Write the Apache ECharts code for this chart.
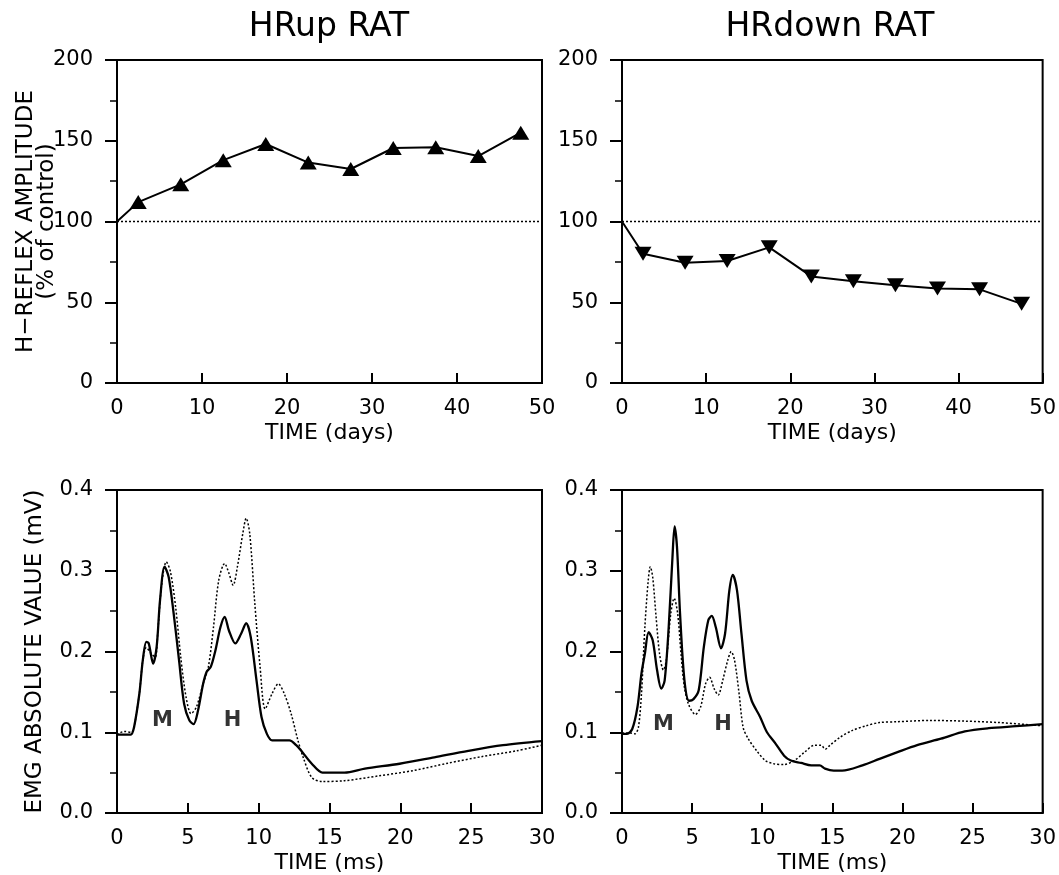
<!DOCTYPE html>
<html><head><meta charset="utf-8">
<script src="https://cdn.jsdelivr.net/npm/echarts@6/dist/echarts.min.js"></script>
<style>html,body{margin:0;padding:0;background:#fff}#c{width:1059px;height:875px}</style>
</head><body><div id="c"></div>
<script>
// ---- data ----
const dayTicks = [0, 10, 20, 30, 40, 50];
const ampTicks = [0, 50, 100, 150, 200];
const msTicks = [0, 5, 10, 15, 20, 25, 30];
const mvTicks = [0, 0.1, 0.2, 0.3, 0.4];

const upDays = [0, 2.5, 7.5, 12.5, 17.5, 22.5, 27.5, 32.5, 37.5, 42.5, 47.5];
const upAmp  = [100, 112, 123, 138, 148, 136.5, 132.5, 145.5, 146, 140.5, 155];
const downDays = [0, 2.5, 7.5, 12.5, 17.5, 22.5, 27.5, 32.5, 37.5, 42.5, 47.5];
const downAmp  = [100, 80, 74.5, 75.5, 84, 66, 63, 60.5, 58.5, 58, 49];
const controlLevel = 100;

const upSolid = [[0,0.097],[0.97,0.097],[1.2,0.106],[1.58,0.148],[1.82,0.189],[2.07,0.212],[2.24,0.21],[2.55,0.185],[2.8,0.206],[3.04,0.264],[3.36,0.305],[3.65,0.292],[4.0,0.247],[4.38,0.189],[4.74,0.135],[5.1,0.115],[5.4,0.11],[5.72,0.127],[6.08,0.16],[6.33,0.175],[6.62,0.181],[6.93,0.2],[7.3,0.23],[7.6,0.243],[7.9,0.226],[8.35,0.21],[8.76,0.222],[9.12,0.235],[9.44,0.218],[9.85,0.164],[10.2,0.119],[10.58,0.098],[10.95,0.09],[11.4,0.09],[12.17,0.09],[12.65,0.084],[13.1,0.075],[13.75,0.061],[14.5,0.05],[15.1,0.05],[16.06,0.05],[17.5,0.055],[19.95,0.061],[22.4,0.069],[24.8,0.077],[27.25,0.084],[30,0.089]];
const upDotted = [[0,0.097],[0.5,0.101],[1.0,0.1],[1.2,0.106],[1.58,0.148],[1.82,0.189],[2.07,0.205],[2.43,0.197],[2.7,0.193],[2.9,0.23],[3.16,0.284],[3.48,0.311],[3.77,0.299],[4.14,0.255],[4.5,0.193],[4.87,0.144],[5.23,0.123],[5.6,0.131],[6.08,0.16],[6.45,0.181],[6.81,0.23],[7.18,0.288],[7.6,0.309],[7.9,0.297],[8.2,0.282],[8.5,0.305],[8.88,0.346],[9.12,0.365],[9.37,0.346],[9.73,0.259],[10.1,0.181],[10.46,0.129],[10.95,0.148],[11.39,0.16],[11.8,0.148],[12.29,0.123],[12.77,0.09],[13.14,0.069],[13.75,0.044],[14.48,0.039],[16.06,0.04],[18.5,0.046],[20.9,0.0525],[23.36,0.0617],[25.8,0.07],[28.2,0.077],[30,0.084]];
const downSolid = [[0,0.098],[0.36,0.098],[0.73,0.104],[1.1,0.131],[1.39,0.173],[1.63,0.197],[1.9,0.224],[2.19,0.214],[2.5,0.177],[2.8,0.154],[3.04,0.164],[3.33,0.23],[3.6,0.317],[3.75,0.355],[3.92,0.33],[4.14,0.247],[4.45,0.165],[4.79,0.139],[5.1,0.141],[5.47,0.152],[5.84,0.206],[6.16,0.239],[6.4,0.244],[6.69,0.23],[7.06,0.204],[7.35,0.222],[7.66,0.276],[7.9,0.295],[8.2,0.276],[8.52,0.222],[8.88,0.164],[9.25,0.139],[9.85,0.119],[10.34,0.1],[10.95,0.086],[11.56,0.071],[12.04,0.065],[12.77,0.062],[13.5,0.059],[14.1,0.059],[14.48,0.055],[15.1,0.0525],[15.7,0.0525],[17.15,0.059],[18.37,0.067],[19.6,0.075],[21.05,0.084],[22.75,0.092],[24.45,0.101],[26.15,0.105],[28.1,0.1075],[30,0.11]];
const downDotted = [[0,0.099],[0.6,0.099],[0.92,0.098],[1.17,0.106],[1.39,0.148],[1.63,0.23],[1.87,0.288],[2.02,0.305],[2.19,0.292],[2.43,0.243],[2.68,0.197],[2.95,0.177],[3.16,0.189],[3.48,0.247],[3.72,0.266],[3.97,0.247],[4.21,0.197],[4.45,0.156],[4.74,0.135],[5.23,0.122],[5.6,0.131],[5.96,0.16],[6.25,0.168],[6.57,0.154],[6.86,0.146],[7.18,0.164],[7.54,0.189],[7.79,0.2],[8.03,0.189],[8.35,0.148],[8.64,0.106],[9.0,0.092],[9.61,0.077],[10.22,0.065],[10.83,0.061],[11.56,0.06],[12.29,0.065],[13.0,0.075],[13.75,0.084],[14.2,0.084],[14.5,0.079],[14.84,0.084],[15.57,0.094],[16.4,0.102],[17.4,0.108],[18.37,0.112],[19.6,0.113],[22.0,0.1146],[24.45,0.1138],[26.9,0.112],[30,0.108]];

const upLabels = [['M', 3.2, 0.115], ['H', 8.15, 0.115]];
const downLabels = [['M', 2.95, 0.11], ['H', 7.2, 0.11]];

// ---- chart ----
const FONT = 'DejaVu Sans';
const chart = echarts.init(document.getElementById('c'), null, {renderer: 'canvas'});
const grids = [
  {left: 117, top: 60, width: 425, height: 323},
  {left: 622, top: 60, width: 423, height: 323},
  {left: 117, top: 490, width: 425, height: 330},
  {left: 622, top: 490, width: 423, height: 330}
].map(g => Object.assign({show: true, borderColor: '#000', borderWidth: 2, backgroundColor: 'transparent'}, g));

function step(t) { return t[1] - t[0]; }
function xAxis(i, ticks, name) {
  return {
    type: 'value', gridIndex: i, min: ticks[0], max: ticks[ticks.length - 1], interval: step(ticks),
    axisLine: {show: true, onZero: false, lineStyle: {color: '#000', width: 2}},
    axisTick: {show: true, inside: true, length: 10, lineStyle: {color: '#000', width: 2}},
    minorTick: {show: false},
    axisLabel: {show: true, color: '#000', fontSize: 21, fontFamily: FONT, margin: 15},
    splitLine: {show: false},
    name: name, nameLocation: 'middle', nameGap: 39, nameMoveOverlap: false,
    nameTextStyle: {color: '#000', fontSize: 22, fontFamily: FONT}
  };
}
function yAxis(i, ticks, name, fmt) {
  const a = {
    type: 'value', gridIndex: i, min: ticks[0], max: ticks[ticks.length - 1], interval: step(ticks),
    axisLine: {show: true, onZero: false, lineStyle: {color: '#000', width: 2}},
    axisTick: {show: true, inside: false, length: 12, lineStyle: {color: '#000', width: 2}},
    minorTick: {show: true, splitNumber: 2, length: 7, lineStyle: {color: '#000', width: 1.5}},
    axisLabel: {show: true, color: '#000', fontSize: 21, fontFamily: FONT, margin: 24,
      formatter: fmt || (v => String(v))},
    splitLine: {show: false}, minorSplitLine: {show: false}
  };
  if (name) {
    a.name = name; a.nameLocation = 'middle'; a.nameRotate = 90; a.nameMoveOverlap = false;
    a.nameTextStyle = {color: '#000', fontSize: 23, fontFamily: FONT, lineHeight: 21, align: 'center'};
  }
  return a;
}

const xs = [xAxis(0, dayTicks, 'TIME (days)'), xAxis(1, dayTicks, 'TIME (days)'),
            xAxis(2, msTicks, 'TIME (ms)'), xAxis(3, msTicks, 'TIME (ms)')];
const ys = [yAxis(0, ampTicks, 'H\u2212REFLEX AMPLITUDE\n(% of control)'), yAxis(1, ampTicks, null),
            yAxis(2, mvTicks, 'EMG ABSOLUTE VALUE (mV)', v => v.toFixed(1)), yAxis(3, mvTicks, null, v => v.toFixed(1))];
ys[0].nameGap = 59;
ys[2].nameGap = 71;

function ampData(days, amp) {
  return days.map((d, k) => k === 0 ? {value: [d, amp[k]], symbol: 'none'} : [d, amp[k]]);
}
function ampSeries(i, days, amp, rot) {
  return {
    type: 'line', xAxisIndex: i, yAxisIndex: i, data: ampData(days, amp),
    lineStyle: {color: '#000', width: 2}, symbol: 'triangle', symbolSize: [17, 14], symbolRotate: rot,
    itemStyle: {color: '#000', borderWidth: 0}, showSymbol: true,
    animation: false, z: 3, emphasis: {disabled: true}
  };
}
function refLine(i) {
  return {
    type: 'line', xAxisIndex: i, yAxisIndex: i, data: [[dayTicks[0], controlLevel], [dayTicks[dayTicks.length - 1], controlLevel]],
    symbol: 'none', lineStyle: {color: '#000', width: 1.4, type: [2, 2]}, animation: false, z: 2
  };
}
function emgSeries(i, data, dotted) {
  return {
    type: 'line', xAxisIndex: i, yAxisIndex: i, data: data, symbol: 'none', smooth: 0.3,
    lineStyle: {color: '#000', width: dotted ? 1.5 : 2.3, type: dotted ? [2, 2] : 'solid'},
    animation: false, z: dotted ? 2 : 3
  };
}
function labelSeries(i, labels) {
  return {
    type: 'scatter', xAxisIndex: i, yAxisIndex: i, symbolSize: 1, itemStyle: {color: 'transparent'},
    data: labels.map(l => ({name: l[0], value: [l[1], l[2]]})),
    label: {show: true, position: 'inside', formatter: p => p.name, color: '#000',
      fontSize: 21, fontWeight: 'bold', fontFamily: FONT, textBorderWidth: 0},
    animation: false, z: 4
  };
}

chart.setOption({
  backgroundColor: '#fff',
  animation: false,
  grid: grids,
  xAxis: xs,
  yAxis: ys,
  graphic: [
    {type: 'text', x: 329, y: 27, style: {text: 'HRup RAT', fontSize: 33, fontFamily: FONT, fill: '#000', textAlign: 'center', textVerticalAlign: 'middle'}},
    {type: 'text', x: 830, y: 27, style: {text: 'HRdown RAT', fontSize: 33, fontFamily: FONT, fill: '#000', textAlign: 'center', textVerticalAlign: 'middle'}}
  ],
  series: [
    refLine(0), ampSeries(0, upDays, upAmp, 0),
    refLine(1), ampSeries(1, downDays, downAmp, 180),
    emgSeries(2, upDotted, true), emgSeries(2, upSolid, false), labelSeries(2, upLabels),
    emgSeries(3, downDotted, true), emgSeries(3, downSolid, false), labelSeries(3, downLabels)
  ]
});
</script>
</body></html>
